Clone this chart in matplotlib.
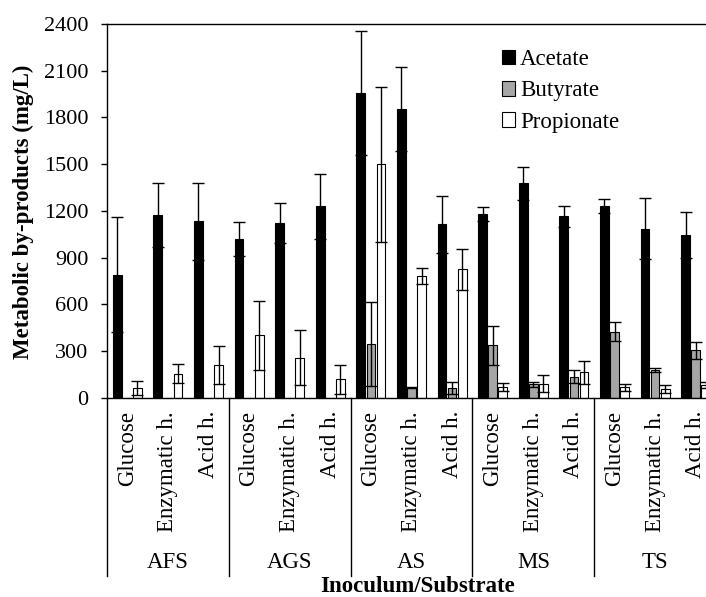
import numpy as np
import matplotlib
matplotlib.use("Agg")
import matplotlib.pyplot as plt

plt.rcParams['font.family'] = ['Liberation Serif', 'DejaVu Serif']

groups = ['AFS', 'AGS', 'AS', 'MS', 'TS']
subs = ['Glucose', 'Enzymatic h.', 'Acid h.']
series = ['Acetate', 'Butyrate', 'Propionate']

acetate = [790, 1175, 1133, 1020, 1122, 1228, 1958, 1854, 1115, 1180, 1377, 1165, 1232, 1085, 1045]
acetate_err = [370, 205, 248, 110, 128, 207, 400, 270, 183, 42, 107, 67, 43, 195, 148]
butyrate = [0, 0, 0, 0, 0, 0, 347, 65, 62, 336, 85, 135, 424, 180, 305]
butyrate_err = [np.nan, np.nan, np.nan, np.nan, np.nan, np.nan, 270, 5, 38, 124, 15, 40, 60, 12, 55]
propionate = [60, 155, 210, 400, 258, 118, 1498, 780, 824, 70, 90, 163, 68, 55, 80]
propionate_err = [45, 60, 120, 222, 175, 95, 500, 50, 133, 25, 55, 72, 22, 25, 20]

W, H = 706, 597
fig = plt.figure(figsize=(W / 100, H / 100), dpi=100)
ax_left, ax_right, ax_top, ax_bot = 107, 716, 24, 397.7
ax = fig.add_axes([ax_left / W, 1 - ax_bot / H, (ax_right - ax_left) / W, (ax_bot - ax_top) / H])

n = len(groups) * len(subs)
x = np.arange(n)
bw = 0.215
offs = [-0.25, 0.0, 0.25]
colors = ['black', '#A6A6A6', 'white']
vals = [acetate, butyrate, propionate]
errs = [acetate_err, butyrate_err, propionate_err]

for k in range(3):
    ax.bar(x + offs[k], vals[k], width=bw, color=colors[k], edgecolor='black',
           linewidth=0.8, label=series[k], zorder=2)
    ax.errorbar(x + offs[k], vals[k], yerr=errs[k], fmt='none', ecolor='black',
                elinewidth=1.0, capsize=4, capthick=1.0, zorder=3)

ax.set_xlim(-0.5, n - 0.5)
ax.set_ylim(0, 2400)
ax.set_yticks(np.arange(0, 2401, 300))
ax.tick_params(axis='y', direction='out', length=4.5, width=1.0, pad=9, labelsize=16)
ax.set_xticks([])
for s in ax.spines.values():
    s.set_linewidth(1.0)

ax_h = ax_bot - ax_top
def ay(py):
    return (ax_bot - py) / ax_h

# subcategory labels
for i in range(n):
    ax.text(i, ay(411), subs[i % 3], rotation=90, ha='center', va='top',
            fontsize=16.5, transform=ax.get_xaxis_transform(), clip_on=False)

# group labels and separators
for g in range(len(groups)):
    ax.text(g * 3 + 1, ay(562), groups[g], ha='center', va='center', fontsize=16.5,
            transform=ax.get_xaxis_transform(), clip_on=False)
for b in range(len(groups) + 1):
    ax.plot([b * 3 - 0.5, b * 3 - 0.5], [0, ay(576)], color='black', lw=1.0,
            transform=ax.get_xaxis_transform(), clip_on=False)

fig.text(418 / W, 1 - 586 / H, 'Inoculum/Substrate', ha='center', va='center',
         fontsize=16.5, fontweight='bold')
fig.text(23 / W, 1 - 211.5 / H, 'Metabolic by-products (mg/L)', rotation=90,
         ha='center', va='center', fontsize=16.5, fontweight='bold')

ax.legend(loc='upper left', bbox_to_anchor=(501.7 / W, 1 - 49 / H),
          bbox_transform=fig.transFigure, frameon=False, fontsize=16.5,
          handlelength=0.6, handleheight=0.6, handletextpad=0.2,
          labelspacing=0.45, borderpad=0, borderaxespad=0)

fig.savefig('out.png', dpi=100)
